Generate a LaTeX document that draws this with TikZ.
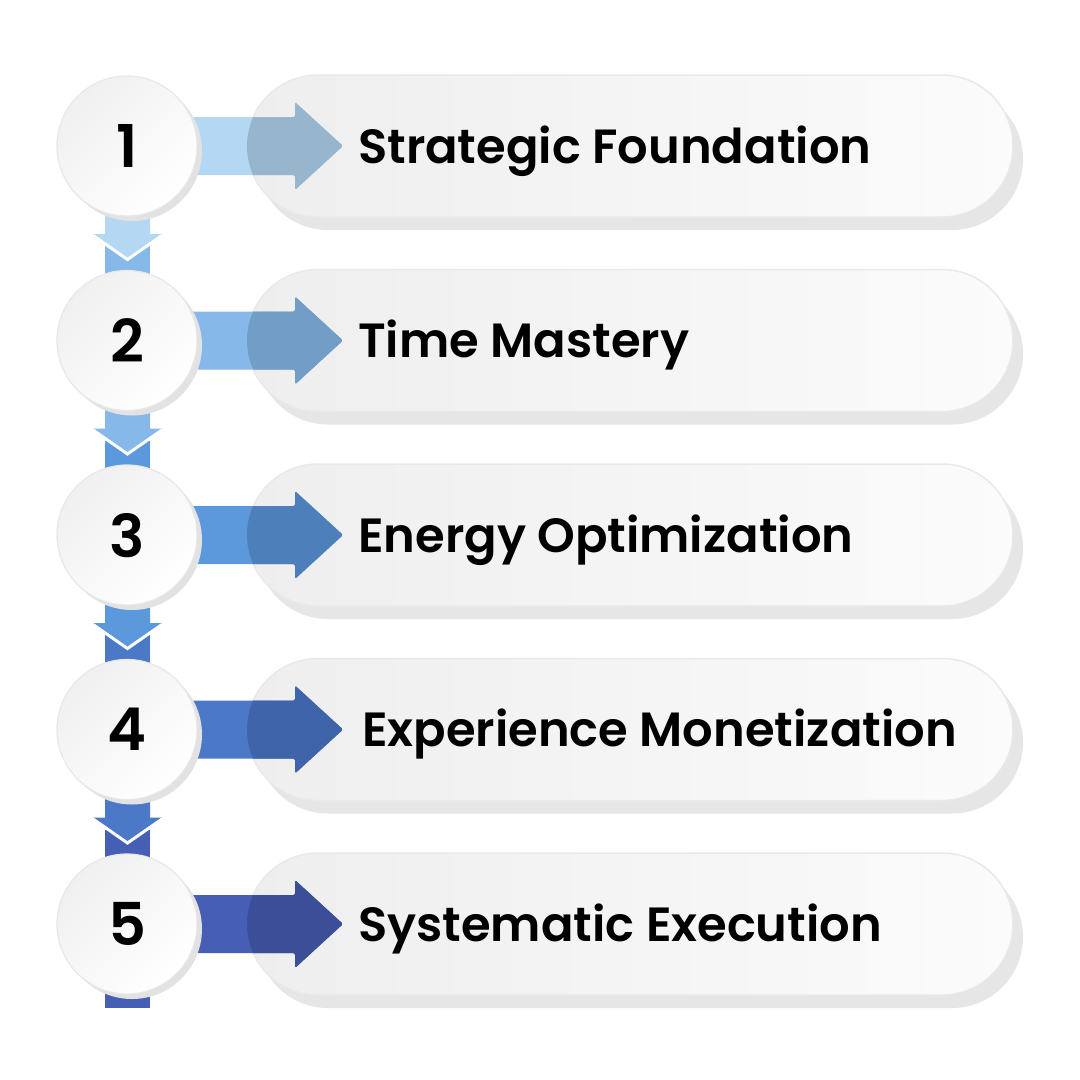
\documentclass[tikz,border=0pt]{standalone}
\usepackage{fontspec}
\setmainfont{Poppins}
\newfontfamily\sbfont{Poppins SemiBold}
\usetikzlibrary{calc}
\definecolor{a1}{HTML}{B4D8F3}\definecolor{d1}{HTML}{97B6CD}
\definecolor{a2}{HTML}{86B9EA}\definecolor{d2}{HTML}{729DC6}
\definecolor{a3}{HTML}{5B98DC}\definecolor{d3}{HTML}{4D7FBA}
\definecolor{a4}{HTML}{4C78C8}\definecolor{d4}{HTML}{4064A9}
\definecolor{a5}{HTML}{465EB4}\definecolor{d5}{HTML}{3C4E98}
\definecolor{pillshadow}{HTML}{E6E6E6}
\definecolor{pillborder}{HTML}{E9E9E9}
\definecolor{pillleft}{HTML}{EEEEEE}
\definecolor{pillright}{HTML}{FBFBFB}
\definecolor{circshadow}{HTML}{E2E2E2}
\definecolor{circborder}{HTML}{E8E8E8}
\definecolor{circdark}{HTML}{F0F0F0}
\tikzset{
  pillbox/.style={rectangle, rounded corners=71, minimum width=766, minimum height=142, inner sep=0, draw=pillborder, line width=1.5, left color=pillleft, right color=pillright},
  pillshade/.style={rectangle, rounded corners=71, minimum width=766, minimum height=142, inner sep=0, fill=pillshadow},
  numcirc/.style={circle, minimum size=140, inner sep=0, draw=circborder, line width=1.2, left color=circdark, right color=white, shading angle=45, text depth=0pt, font=\sbfont\fontsize{59}{60}\selectfont},
  circshade/.style={circle, minimum size=140, inner sep=0, fill=circshadow},
  label/.style={anchor=base west, inner sep=0, font=\sbfont\fontsize{48}{60}\selectfont, text=black},
}
\begin{document}
\begin{tikzpicture}[x=1pt,y=-1pt]
\fill[white] (0,0) rectangle (1080,1080);
\useasboundingbox (0,0) rectangle (1080,1080);
% pills
\foreach \i/\cy in {1/146, 2/340.5, 3/535, 4/729.5, 5/924}{
  \node[pillshade] (ps\i) at (640,\cy+13) {};
  \node[pillbox] (p\i) at (630,\cy) {};
}
% horizontal arrows
\foreach \i/\cy in {1/146, 2/340.5, 3/535, 4/729.5, 5/924}{
  \fill[a\i, rounded corners=1.5] (190,\cy-29) -- (295,\cy-29) -- (295,\cy-44) -- (343,\cy) -- (295,\cy+44) -- (295,\cy+29) -- (190,\cy+29) -- cycle;
  \begin{scope}
    \clip[rounded corners=71] (247,\cy-71) rectangle (1013,\cy+71);
    \fill[d\i, rounded corners=1.5] (190,\cy-29) -- (295,\cy-29) -- (295,\cy-44) -- (343,\cy) -- (295,\cy+44) -- (295,\cy+29) -- (190,\cy+29) -- cycle;
  \end{scope}
}
% vertical connectors
\foreach \i/\j/\cy in {1/2/146, 2/3/340.5, 3/4/535, 4/5/729.5}{
  \fill[a\j] (105,\cy+100) rectangle (150,\cy+194);
  \fill[a\i] (105,\cy) -- (105,\cy+88) -- (93,\cy+88) -- (127.5,\cy+112) -- (162,\cy+88) -- (150,\cy+88) -- (150,\cy) -- cycle;
  \draw[white, line width=3, line join=miter] (93,\cy+89.5) -- (127.5,\cy+113.5) -- (162,\cy+89.5);
}
\fill[a5] (105,924) rectangle (150,1008);
% circles and labels
\foreach \i/\cy/\t/\tx in {1/146/Strategic Foundation/358, 2/340.5/Time Mastery/358, 3/535/Energy Optimization/358, 4/729.5/Experience Monetization/362, 5/924/Systematic Execution/358}{
  \node[circshade] (cs\i) at (132,\cy+5) {};
  \node[numcirc] (c\i) at (127,\cy) {\i};
  \node[label] (t\i) at (\tx,\cy+17) {\t};
}
\end{tikzpicture}
\end{document}
